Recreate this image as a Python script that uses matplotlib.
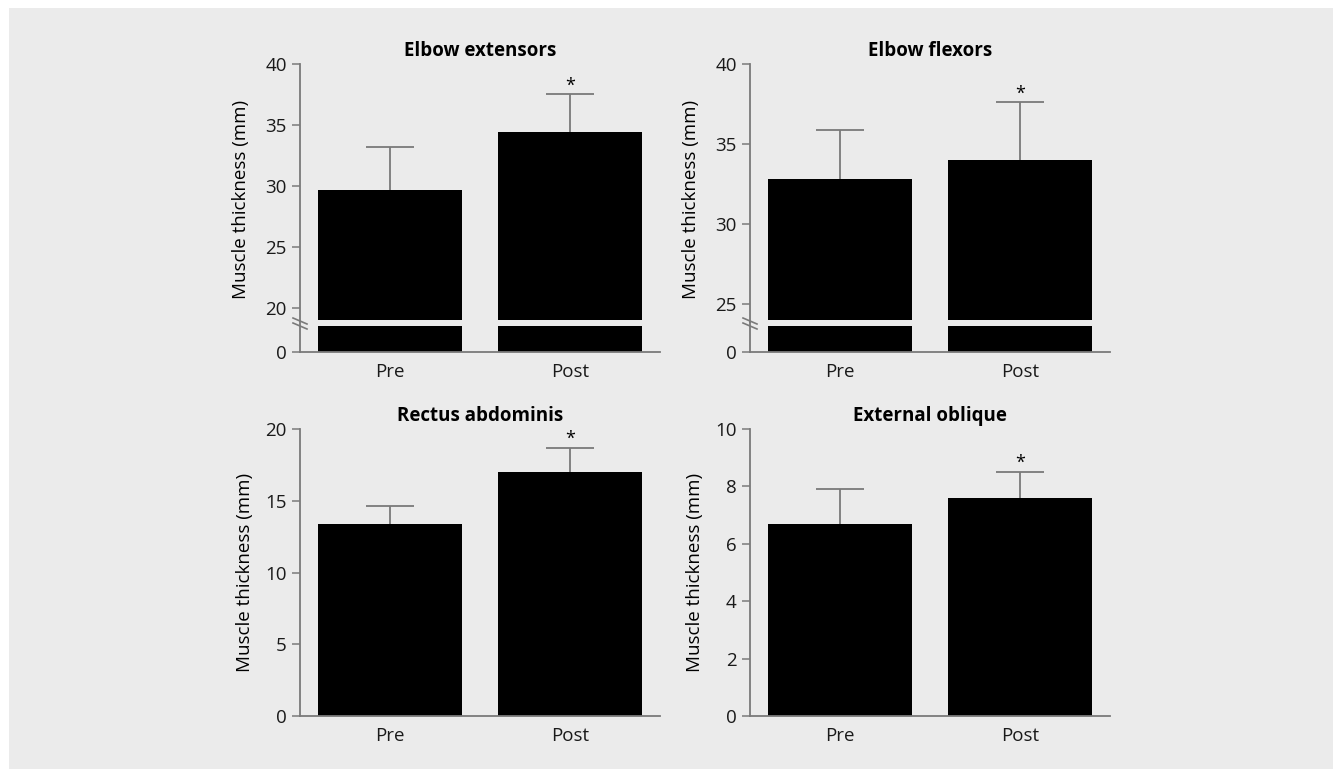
import matplotlib.pyplot as plt
from matplotlib.patches import Rectangle
from matplotlib.lines import Line2D

groups = ['Pre', 'Post']
titles = ['Elbow extensors', 'Elbow flexors', 'Rectus abdominis', 'External oblique']
means = [[29.7, 34.4], [32.8, 34.0], [13.4, 17.0], [6.7, 7.6]]
sds = [[3.5, 3.1], [3.1, 3.6], [1.2, 1.7], [1.2, 0.9]]
significant = [[False, True], [False, True], [False, True], [False, True]]
yticks = [[20, 25, 30, 35, 40], [25, 30, 35, 40], [0, 5, 10, 15, 20], [0, 2, 4, 6, 8, 10]]
ylims = [(19, 40), (24, 40), (0, 20), (0, 10)]
broken = [True, True, False, False]

plt.rcParams['font.family'] = ['Open Sans', 'DejaVu Sans']
plt.rcParams['font.size'] = 13

W, H = 1333, 769
fig = plt.figure(figsize=(W / 100, H / 100), dpi=100)
fig.patch.set_facecolor('white')
fig.add_artist(Rectangle((9 / W, 0), 1, 1 - 8 / H, transform=fig.transFigure,
                         facecolor='#ebebeb', edgecolor='none', zorder=-10))

grey = '#7a7a7a'
x = [0, 1]


def style(ax):
    ax.set_facecolor('none')
    for s in ['top', 'right']:
        ax.spines[s].set_visible(False)
    for s in ['left', 'bottom']:
        ax.spines[s].set_color(grey)
        ax.spines[s].set_linewidth(1.3)
    ax.tick_params(colors='#1a1a1a', width=1.1, length=6, labelsize=13.5, color=grey)
    ax.set_xlim(-0.5, 1.5)


lefts = [300, 750, 300, 750]
for i in range(4):
    left = lefts[i] / W
    width = 360 / W
    if i < 2:
        top_px, bot_px = 64, 320
    else:
        top_px, bot_px = 429, 716
    ax = fig.add_axes([left, (H - bot_px) / H, width, (bot_px - top_px) / H])
    style(ax)
    ax.bar(x, means[i], width=0.8, color='black', zorder=2)
    # symmetric error bars drawn behind the bars so only the upper half shows
    ax.errorbar(x, means[i], yerr=sds[i], fmt='none', ecolor=grey,
                elinewidth=1.3, capsize=17, capthick=1.3, zorder=1)
    for j in range(2):
        if significant[i][j]:
            ax.annotate('*', (x[j], means[i][j] + sds[i][j]), xytext=(0, 0),
                        textcoords='offset points', ha='center', va='bottom', fontsize=13)
    ax.set_ylim(*ylims[i])
    ax.set_yticks(yticks[i])
    ax.set_title(titles[i], fontweight='bold', fontsize=13.5, pad=6)
    ax.set_ylabel('Muscle thickness (mm)', fontsize=13.5, labelpad=8)
    if broken[i]:
        ax.spines['bottom'].set_visible(False)
        ax.set_xticks([])
        ax.yaxis.set_label_coords(-0.14, 0.47)
        low = fig.add_axes([left, (H - 352) / H, width, 26 / H])
        style(low)
        low.bar(x, means[i], width=0.8, color='black')
        low.set_ylim(0, 1)
        low.set_yticks([0])
        low.set_xticks(x)
        low.set_xticklabels(groups)
        low.tick_params(axis='x', length=0, pad=8)
        low.spines['left'].set_bounds(0, 1.2)
        low.spines['left'].set_clip_on(False)
        ax.spines['left'].set_bounds(ylims[i][0] - 0.1, ylims[i][1])
        # break marks on the y axis
        xs = lefts[i] / W
        for yp in (321, 326):
            fig.add_artist(Line2D([xs - 7 / W, xs + 7 / W],
                                  [(H - yp + 3) / H, (H - yp - 3) / H],
                                  transform=fig.transFigure, color=grey, lw=1.2))
    else:
        ax.set_xticks(x)
        ax.set_xticklabels(groups)
        ax.tick_params(axis='x', length=0, pad=8)

fig.savefig('out.png', dpi=100)
